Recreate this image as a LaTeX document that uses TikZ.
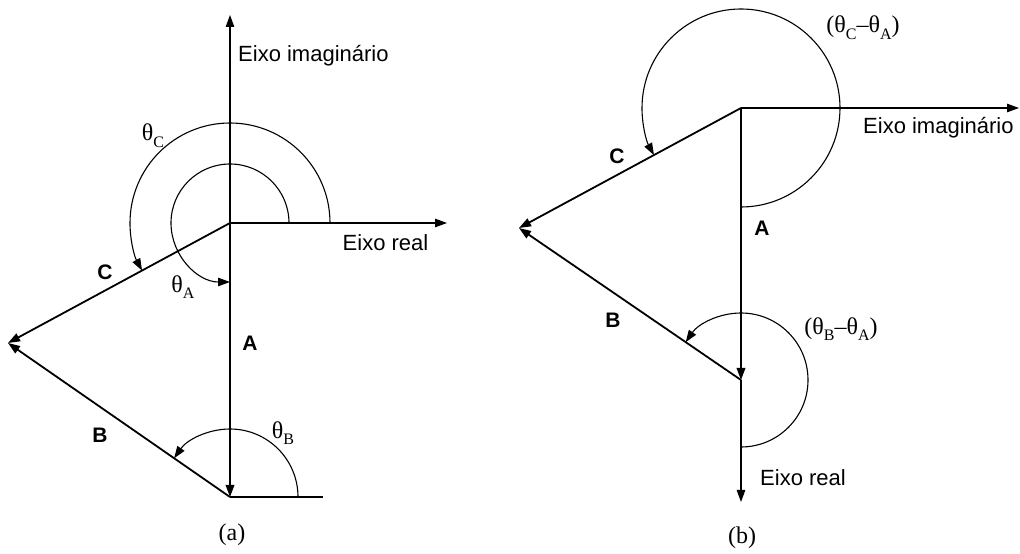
\documentclass[tikz,border=0pt]{standalone}
\usepackage{fontspec}
\setmainfont{Liberation Serif}
\setsansfont{Liberation Sans}
\usetikzlibrary{arrows.meta,calc}
\newcommand{\sbs}[1]{\raisebox{-0.28em}{\fontsize{16}{16}\selectfont #1}}
\tikzset{
  tip/.style={-{Triangle[length=12pt,width=8.5pt]}},
  vecline/.style={line width=1.8pt,tip},
  axisline/.style={line width=1.1pt,tip},
  angarc/.style={line width=1.1pt,tip},
  plainline/.style={line width=1.2pt},
  sanslbl/.style={font=\sffamily\fontsize{22}{26}\selectfont,inner sep=0pt},
  veclbl/.style={font=\sffamily\bfseries\fontsize{21}{24}\selectfont,inner sep=0pt},
  serlbl/.style={font=\fontsize{24}{28}\selectfont,inner sep=0pt}
}
\begin{document}
\begin{tikzpicture}[x=1pt,y=1pt]
\useasboundingbox (0,0) rectangle (1020,554);
% ---------- (a) ----------
\coordinate (O) at (230,331);
\coordinate (Pa) at (230,57);
\coordinate (Qa) at (8,211);
\coordinate (ImTop) at (230,539);
\coordinate (ReEnd) at (447,331);
\coordinate (Hend) at (323,57);
\draw[axisline] (O) -- (ImTop);
\draw[axisline] (O) -- (ReEnd);
\draw[plainline] (Pa) -- (Hend);
\draw[vecline] (O) -- (Pa);
\draw[vecline] (O) -- (Qa);
\draw[vecline] (Pa) -- (Qa);
\draw[angarc] ($(O)+(59,0)$) arc[start angle=0,end angle=270,radius=59];
\draw[angarc] ($(O)+(100,0)$) arc[start angle=0,end angle=208.4,radius=100];
\draw[angarc] ($(Pa)+(68,0)$) arc[start angle=0,end angle=145.25,radius=68];
\node[sanslbl,anchor=west] (lImA) at (238,498) {Eixo imagin\'ario};
\node[sanslbl] (lReA) at (385.5,311) {Eixo real};
\node[veclbl] (lAa) at (250,211) {A};
\node[veclbl] (lBa) at (100,119) {B};
\node[veclbl] (lCa) at (105,282) {C};
\node[serlbl] (tA) at (183,267) {θ\sbs{A}};
\node[serlbl] (tB) at (283,121) {θ\sbs{B}};
\node[serlbl] (tC) at (153,418) {θ\sbs{C}};
\node[serlbl] (capA) at (232,19) {(a)};
% ---------- (b) ----------
\coordinate (Ob) at (741,446);
\coordinate (Pb) at (741,174);
\coordinate (Qb) at (519,326);
\coordinate (ImEnd) at (1019,446);
\coordinate (ReBot) at (741,52);
\draw[axisline] (Ob) -- (ImEnd);
\draw[axisline] (Pb) -- (ReBot);
\draw[vecline] (Ob) -- (Pb);
\draw[vecline] (Ob) -- (Qb);
\draw[vecline] (Pb) -- (Qb);
\draw[angarc] ($(Ob)+(0,-99)$) arc[start angle=-90,end angle=208.4,radius=99];
\draw[angarc] ($(Pb)+(0,-67)$) arc[start angle=-90,end angle=145.6,radius=67];
\node[sanslbl,anchor=west] (lImB) at (863,426) {Eixo imagin\'ario};
\node[sanslbl,anchor=west] (lReB) at (760,76) {Eixo real};
\node[veclbl] (lAb) at (762,326) {A};
\node[veclbl] (lBb) at (613,234) {B};
\node[veclbl] (lCb) at (617,398) {C};
\node[serlbl] (tCA) at (863,526) {(θ\sbs{C}–θ\sbs{A})};
\node[serlbl] (tBA) at (841,225) {(θ\sbs{B}–θ\sbs{A})};
\node[serlbl] (capB) at (742,16) {(b)};
\end{tikzpicture}
\end{document}
